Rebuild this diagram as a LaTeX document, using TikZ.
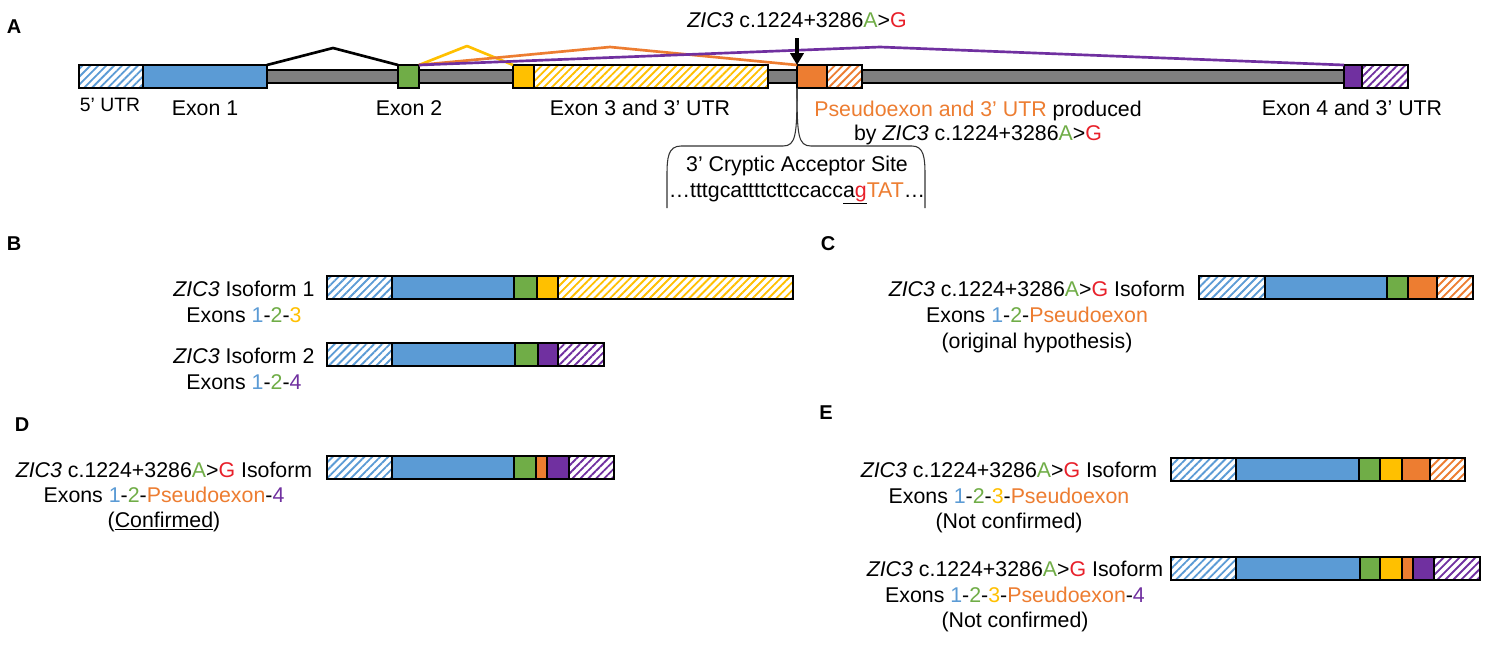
\documentclass[tikz,border=0pt]{standalone}
\usepackage{fontspec}
\setmainfont{Liberation Sans}
\usepackage{tikz}
\usetikzlibrary{arrows.meta,patterns.meta}

\definecolor{exblue}{HTML}{5B9BD5}
\definecolor{exgreen}{HTML}{70AD47}
\definecolor{exyellow}{HTML}{FFC000}
\definecolor{exorange}{HTML}{ED7D31}
\definecolor{expurple}{HTML}{7030A0}
\definecolor{intron}{HTML}{7F7F7F}
\definecolor{mutred}{HTML}{E8202A}

\newcommand{\zic}{\textit{ZIC3}}
\newcommand{\mut}{c.1224+3286\textcolor{exgreen}{A}>\textcolor{mutred}{G}}
\newcommand{\isobar}[2]{%
  \foreach \xa/\xb/\st in {#2} {\draw[\st] (\xa,#1) rectangle (\xb,#1+23);}}

\tikzset{
  seg/.style={draw=black, line width=1.5pt},
  hatch/.style={seg, preaction={fill=white},
    pattern={Lines[angle=45,distance=4.2pt,line width=1.4pt]}, pattern color=#1},
  hblue/.style={hatch=exblue}, sblue/.style={seg, fill=exblue},
  sgreen/.style={seg, fill=exgreen},
  hyellow/.style={hatch=exyellow}, syellow/.style={seg, fill=exyellow},
  horange/.style={hatch=exorange}, sorange/.style={seg, fill=exorange},
  hpurple/.style={hatch=expurple}, spurple/.style={seg, fill=expurple},
  intronbar/.style={seg, fill=intron},
  splice/.style={line width=2pt, line join=round},
  lbl/.style={font=\fontsize{16}{19}\selectfont, anchor=base, inner sep=0pt},
  small/.style={font=\fontsize{14.5}{17}\selectfont, anchor=base, inner sep=0pt},
  panel/.style={font=\fontsize{15}{18}\selectfont\bfseries, anchor=base, inner sep=0pt},
  brace/.style={line width=0.8pt, draw=black!80}
}

\begin{document}
\begin{tikzpicture}[x=0.75pt, y=-0.75pt]
  \fill[white] (0,0) rectangle (1489,647);
  \useasboundingbox (0,0) rectangle (1489,647);

  % panel A: gene
  \draw[intronbar] (266,70) rectangle (1345,83);
  \isobar{65}{79/143/hblue, 143/267/sblue, 398/419/sgreen, 513/534/syellow,
    534/768/hyellow, 797/827/sorange, 827/862/horange, 1344/1362/spurple, 1362/1408/hpurple}

  \coordinate (e1r) at (267,65);
  \coordinate (e2l) at (398,65);
  \coordinate (e2r) at (419,65);
  \coordinate (e3l) at (513,65);
  \coordinate (pxl) at (797,65);
  \coordinate (pxb) at (797,88);
  \coordinate (e4l) at (1344,65);
  \coordinate (k12) at (333,48);
  \coordinate (k23) at (467,46);
  \coordinate (k2p) at (610,47);
  \coordinate (k24) at (880,47);

  \draw[splice] (e1r) -- (k12) -- (e2l);
  \draw[splice, exyellow] (e2r) -- (k23) -- (e3l);
  \draw[splice, exorange] (e2r) -- (k2p) -- (pxl);
  \draw[splice, expurple] (e2r) -- (k24) -- (e4l);

  \node[panel] (pa) at (14,33) {A};
  \node[lbl] (mutlbl) at (797,27) {\zic{} \mut};
  \draw[line width=3pt, -{Triangle[width=10pt,length=9pt]}] ([yshift=-8pt]mutlbl.south) -- (pxl);

  \node[small] (l5utr) at (110,111) {5' UTR};
  \node[lbl] (lex1) at (205,115) {Exon 1};
  \node[lbl] (lex2) at (409,115) {Exon 2};
  \node[lbl] (lex3) at (640,115) {Exon 3 and 3' UTR};
  \node[lbl] (lpx1) at (978,116) {\textcolor{exorange}{Pseudoexon and 3' UTR} produced};
  \node[lbl] (lpx2) at (978,140) {by \zic{} \mut};
  \node[lbl] (lex4) at (1352,115) {Exon 4 and 3' UTR};

  % cryptic site callout
  \draw[brace] (pxb) .. controls (797,135) and (796,146) .. (783,146) -- (681,146)
    .. controls (668,146) and (667,158) .. (667,175) -- (667,208);
  \draw[brace] (pxb) .. controls (797,135) and (798,146) .. (811,146) -- (912,146)
    .. controls (924,146) and (925,158) .. (925,175) -- (925,208);
  \node[lbl] (cryp) at (797,171) {3' Cryptic Acceptor Site};
  \node[lbl] (seq) at (797,197) {\ldots tttgcattttcttccacc\underline{a\textcolor{mutred}{g}}\textcolor{exorange}{TAT}\ldots};

  % panel B
  \node[panel] (pb) at (14,250) {B};
  \isobar{276}{327/392/hblue, 392/514/sblue, 514/537/sgreen, 537/558/syellow, 558/793/hyellow}
  \isobar{343}{327/392/hblue, 392/515/sblue, 515/538/sgreen, 538/558/spurple, 558/604/hpurple}
  \node[lbl] (b1a) at (244,296) {\zic{} Isoform 1};
  \node[lbl] (b1b) at (244,322) {Exons \textcolor{exblue}{1}-\textcolor{exgreen}{2}-\textcolor{exyellow}{3}};
  \node[lbl] (b2a) at (244,363) {\zic{} Isoform 2};
  \node[lbl] (b2b) at (244,389) {Exons \textcolor{exblue}{1}-\textcolor{exgreen}{2}-\textcolor{expurple}{4}};

  % panel C
  \node[panel] (pc) at (828,250) {C};
  \isobar{276}{1199/1265/hblue, 1265/1387/sblue, 1387/1408/sgreen, 1408/1437/sorange, 1437/1473/horange}
  \node[lbl] (c1) at (1037,296) {\zic{} \mut{} Isoform};
  \node[lbl] (c2) at (1037,322) {Exons \textcolor{exblue}{1}-\textcolor{exgreen}{2}-\textcolor{exorange}{Pseudoexon}};
  \node[lbl] (c3) at (1037,348) {(original hypothesis)};

  % panel D
  \node[panel] (pd) at (22,431) {D};
  \isobar{456}{327/392/hblue, 392/514/sblue, 514/536/sgreen, 536/547/sorange, 547/569/spurple, 569/614/hpurple}
  \node[lbl] (d1) at (164,477) {\zic{} \mut{} Isoform};
  \node[lbl] (d2) at (164,502) {Exons \textcolor{exblue}{1}-\textcolor{exgreen}{2}-\textcolor{exorange}{Pseudoexon}-\textcolor{expurple}{4}};
  \node[lbl] (d3) at (164,527) {(\underline{Confirmed})};

  % panel E
  \node[panel] (pe) at (826,419) {E};
  \isobar{458}{1171/1236/hblue, 1236/1359/sblue, 1359/1380/sgreen, 1380/1402/syellow, 1402/1430/sorange, 1430/1465/horange}
  \isobar{557}{1171/1236/hblue, 1236/1360/sblue, 1360/1380/sgreen, 1380/1402/syellow, 1402/1413/sorange, 1413/1434/spurple, 1434/1480/hpurple}
  \node[lbl] (e1a) at (1009,477) {\zic{} \mut{} Isoform};
  \node[lbl] (e1b) at (1009,503) {Exons \textcolor{exblue}{1}-\textcolor{exgreen}{2}-\textcolor{exyellow}{3}-\textcolor{exorange}{Pseudoexon}};
  \node[lbl] (e1c) at (1009,528) {(Not confirmed)};
  \node[lbl] (e2a) at (1015,576) {\zic{} \mut{} Isoform};
  \node[lbl] (e2b) at (1015,602) {Exons \textcolor{exblue}{1}-\textcolor{exgreen}{2}-\textcolor{exyellow}{3}-\textcolor{exorange}{Pseudoexon}-\textcolor{expurple}{4}};
  \node[lbl] (e2c) at (1015,627) {(Not confirmed)};
\end{tikzpicture}
\end{document}
